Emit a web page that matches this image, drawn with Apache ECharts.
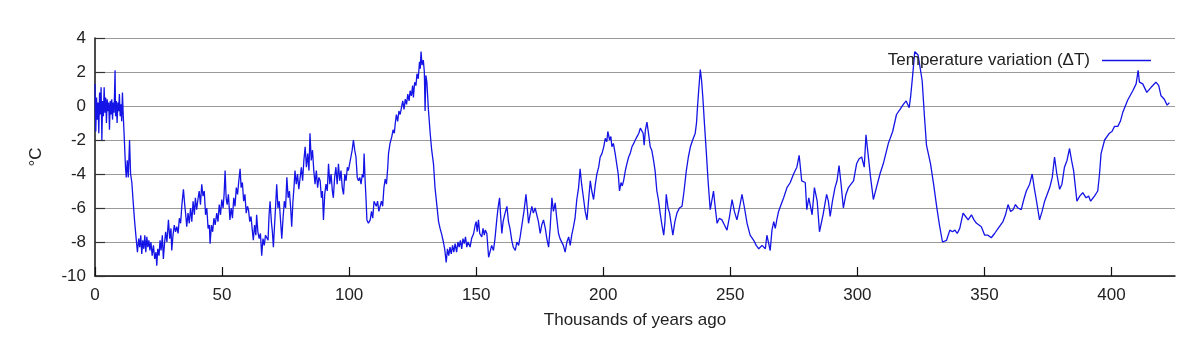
<!DOCTYPE html>
<html>
<head>
<meta charset="utf-8">
<script src="https://cdn.jsdelivr.net/npm/echarts@6/dist/echarts.min.js"></script>
<style>
html,body{margin:0;padding:0;background:#fff;}
#chart{width:1200px;height:350px;}
</style>
</head>
<body>
<div id="chart"></div>
<script>
// Vostok temperature variation, [thousands of years ago, deltaT in °C]
const cycle1 = [
[0,1.3],[0.3,-1.5],[0.6,0.5],[0.9,-0.8],[1.2,0.2],[1.5,-1.6],[1.8,0.8],[2.1,-0.5],[2.4,1.1],[2.7,-2.0],
[3.0,0.3],[3.3,-0.6],[3.6,1.1],[3.9,-0.4],[4.2,0.5],[4.5,-1.0],[4.8,0.4],[5.1,-0.3],[5.4,0.2],[5.7,-1.4],
[6.0,0.3],[6.3,-0.5],[6.6,0.4],[6.9,-0.8],[7.2,0.2],[7.5,-0.4],[7.9,2.1],[8.1,-0.6],[8.4,0.3],[8.7,-1.0],
[9.0,0.2],[9.3,-0.3],[9.6,0.7],[9.9,-0.6],[10.2,0.1],[10.5,-0.9],[10.8,0.8],[11.1,-0.5],[11.5,-1.8],[12.0,-3.6],
[12.3,-4.2],[12.7,-3.2],[13.1,-4.2],[13.6,-2.0],[14.0,-4.0],[14.5,-4.5],[15.0,-5.6],[15.6,-6.8],[16.2,-7.8],[16.7,-8.6],
[17.2,-7.8],[17.6,-8.3],[18.0,-7.6],[18.4,-8.7],[18.8,-7.9],[19.2,-8.4],[19.6,-7.6],[20.0,-8.6],[20.4,-7.7],[20.8,-8.3],
[21.2,-7.9],[21.6,-8.5],[22.0,-8.0],[22.5,-8.8],[23.0,-8.2],[23.5,-9.0],[24.0,-8.6],[24.3,-9.4],[24.7,-8.4],[25.2,-8.8],
[25.6,-7.9],[26.0,-8.5],[26.5,-7.6],[26.9,-9.0],[27.3,-8.2],[27.8,-7.4],[28.3,-8.0],[28.9,-6.7],[29.4,-7.8],[29.9,-7.2],
[30.2,-8.5],[30.7,-7.6],[31.2,-7.0],[31.7,-7.4],[32.2,-7.1],[32.7,-7.5],[33.2,-6.6],[33.7,-6.9],[34.2,-5.8],[34.8,-4.9],
[35.3,-5.8],[35.7,-6.4],[36.1,-7.1],[36.6,-6.3],[37.1,-6.9],[37.6,-6.0],[38.1,-6.8],[38.6,-5.6],[39.1,-6.4],[39.5,-5.4],
[40.0,-6.1],[40.5,-5.5],[41.0,-5.0],[41.5,-5.8],[42.0,-4.6],[42.5,-5.3],[43.0,-5.0],[43.5,-6.4],[44.0,-6.0],[44.5,-7.2],
[45.0,-7.0],[45.3,-8.1],[45.8,-7.0],[46.3,-7.4],[46.8,-6.6],[47.3,-7.0],[47.9,-6.3],[48.4,-6.8],[48.9,-5.8],[49.4,-6.4],
[49.9,-5.5],[50.4,-6.0],[50.8,-5.2],[51.2,-3.8],[51.6,-5.4],[52.0,-5.8],[52.5,-5.2],[53.1,-6.7],[53.6,-6.0],[54.1,-6.6],
[54.6,-5.4],[55.1,-5.9],[55.6,-4.8],[56.1,-5.2],[56.6,-4.4],[57.1,-3.7],[57.5,-4.8],[58.0,-4.5],[58.5,-5.6],[59.0,-5.2],
[59.5,-6.3],[60.0,-5.9],[60.4,-6.1],[60.9,-6.8],[61.4,-6.5],[61.9,-7.3],[62.3,-7.9],[62.8,-7.0],[63.3,-7.6],[63.6,-6.4],
[64.1,-7.4],[64.6,-7.8],[65.1,-7.5],[65.6,-8.8],[66.1,-7.8],[66.6,-8.2],[67.1,-7.6],[67.6,-7.5],[68.1,-7.9],[68.5,-6.4],
[68.9,-5.6],[69.4,-6.8],[69.8,-7.4],[70.2,-8.3],[70.7,-6.9],[71.1,-5.8],[71.5,-4.6],[72.0,-6.0],[72.5,-5.6],[73.0,-6.7],
[73.5,-7.8],[74.0,-6.6],[74.5,-5.6],[75.0,-6.0],[75.5,-4.2],[76.0,-5.4],[76.5,-5.0],[77.0,-6.0],[77.4,-7.1],[77.9,-5.6],
[78.3,-4.8],[78.7,-3.8],[79.2,-4.6],[79.7,-4.0],[80.2,-4.9],[80.7,-5.0],[81.2,-3.6],[81.7,-4.4],[82.2,-3.2],[82.7,-2.4],
[83.2,-3.6],[83.7,-2.8],[84.2,-3.8],[84.6,-1.6],[85.1,-3.2],[85.6,-2.6],[86.1,-3.8],[86.6,-4.6],[87.1,-3.8],[87.6,-4.8],
[88.1,-4.2],[88.6,-4.4],[89.1,-5.4],[89.5,-5.0],[89.9,-6.7],[90.4,-5.2],[90.9,-4.6],[91.4,-5.0],[91.9,-3.4],[92.4,-4.6],
[92.9,-4.0],[93.4,-5.0],[93.8,-5.4],[94.3,-4.2],[94.8,-3.6],[95.3,-4.6],[95.8,-3.4],[96.3,-4.4],[96.8,-3.8],[97.3,-4.8],
[97.8,-5.2],[98.3,-4.0],[98.8,-4.4],[99.3,-3.6],[99.7,-3.8],[100.2,-3.4],[100.7,-3.0],[101.2,-2.6],[101.7,-2.0],[102.2,-2.6],
[102.7,-3.0],[103.2,-4.2],[103.7,-4.4],[104.2,-4.2],[104.7,-4.6],[105.2,-4.0],[105.6,-4.2],[105.9,-2.8],[106.3,-4.4],[106.7,-5.6],
[107.0,-6.7],[107.6,-6.9],[108.3,-6.7],[108.8,-6.2],[109.3,-6.6],[109.8,-5.6],[110.2,-5.5],[110.7,-5.9],[111.2,-5.6],[111.7,-6.2],
[112.2,-6.1],[112.7,-5.6],[113.2,-5.9],[113.7,-4.8],[114.2,-4.3],[114.7,-4.6],[115.2,-3.6],[115.5,-2.8],[116.1,-2.2],[116.8,-1.8],
[117.3,-1.4],[117.8,-1.6],[118.1,-1.1],[118.6,-0.5],[119.1,-0.9],[119.6,-0.3],[120.1,-0.5],[120.6,-0.1],[121.1,0.3],[121.6,-0.2],
[122.1,0.4],[122.6,0.1],[123.1,0.7],[123.6,0.3],[124.0,0.9],[124.5,0.6],[125.0,1.2],[125.3,0.5],[125.8,1.4],[126.3,1.2],
[126.7,1.9],[127.2,1.6],[127.7,2.6],[128.0,2.2],[128.3,3.2],[128.7,2.4],[129.2,2.7],[129.6,2.0],[129.9,-0.3],[130.2,1.8]
];
const cycle2 = [
[130.6,1.4],[131.2,-0.2],[131.9,-1.6],[132.5,-2.6],[133.2,-3.4],[133.8,-4.8],[134.5,-5.8],[135.2,-6.8],[135.8,-7.2],[136.5,-7.6],
[137.1,-8.0],[137.6,-8.4],[138.2,-9.2],[138.7,-8.4],[139.2,-8.8],[139.7,-8.3],[140.2,-8.7],[140.7,-8.2],[141.2,-8.6],[141.7,-8.1],
[142.3,-8.6],[142.8,-8.0],[143.3,-8.3],[143.8,-7.9],[144.3,-8.4],[144.8,-7.8],[145.3,-8.1],[145.8,-7.7],[146.3,-8.3],[146.8,-8.0],
[147.6,-8.3],[148.2,-7.8],[149.0,-7.5],[149.6,-7.0],[150.0,-6.8],[150.4,-7.4],[150.9,-6.7],[151.4,-7.5],[152.2,-7.7],[152.7,-7.2],
[153.2,-7.6],[153.6,-7.3],[154.2,-7.5],[154.9,-8.9],[155.5,-9.0],[156.1,-8.2],[156.8,-8.5],[157.4,-7.8],[158.1,-6.7],[158.6,-6.0],
[159.2,-5.4],[159.6,-6.4],[160.1,-7.5],[160.6,-6.8],[161.2,-6.4],[162.1,-5.9],[162.7,-6.8],[163.3,-7.2],[164.0,-7.9],[164.6,-8.3],
[165.4,-8.5],[166.0,-8.0],[166.7,-8.2],[167.3,-7.7],[168.0,-7.0],[168.8,-6.2],[169.6,-5.2],[170.1,-6.0],[170.6,-6.9],[171.2,-6.4],
[171.9,-5.9],[172.5,-6.3],[173.2,-6.0],[173.9,-6.1],[174.5,-6.8],[175.2,-7.5],[175.8,-7.0],[176.5,-6.7],[177.2,-7.2],[177.8,-7.8],
[178.5,-8.3],[179.1,-7.2],[179.8,-5.4],[180.4,-6.2],[181.1,-5.7],[181.7,-6.6],[182.4,-7.5],[183.0,-7.8],[183.7,-7.9],[184.3,-8.2],
[185.0,-8.6],[185.7,-8.0],[186.4,-7.7],[187.0,-8.2],[187.6,-7.6],[188.3,-7.1],[188.9,-6.6],[189.6,-5.5],[190.3,-4.8],[190.9,-3.7],
[191.5,-4.6],[192.3,-5.5],[192.9,-6.2],[193.6,-6.7],[194.2,-5.6],[194.9,-4.4],[195.5,-5.0],[196.2,-5.5],[196.9,-4.6],[197.5,-4.0],
[198.2,-3.6],[198.8,-3.0],[199.5,-2.8],[200.2,-2.4],[200.8,-1.9],[201.4,-2.1],[201.8,-1.5],[202.5,-2.0],[203.0,-1.8],[203.4,-2.4],
[204.0,-2.2],[204.7,-2.8],[205.3,-3.4],[205.9,-4.0],[206.4,-5.0],[207.0,-4.5],[207.5,-4.7],[208.0,-4.4],[208.7,-3.8],[209.3,-3.4],
[210.0,-3.0],[210.6,-2.8],[211.3,-2.4],[212.0,-2.2],[212.6,-2.0],[213.3,-1.8],[214.0,-1.6],[214.6,-1.3],[215.2,-1.2],[215.7,-1.6],
[216.1,-2.3],[216.6,-1.4],[217.2,-0.95],[217.8,-1.6],[218.5,-2.4],[219.1,-2.6],[219.8,-3.2],[220.4,-3.8],[221.1,-5.0],[221.7,-5.5],
[222.4,-6.3],[223.1,-7.0],[223.8,-7.6],[224.3,-6.8],[224.8,-5.2],[225.5,-6.0],[226.1,-6.3],[226.8,-7.0],[227.4,-7.6],[228.2,-6.8],
[229.0,-6.3],[230.0,-6.0],[231.0,-5.9],[231.8,-5.0],[232.7,-3.8],[233.5,-3.0],[234.3,-2.4],[235.2,-2.0],[236.2,-1.6],[236.7,-1.0],
[237.1,-0.05],[237.6,1.0],[238.2,2.15],[238.7,1.5],[239.2,0.5],[239.9,-1.2],[240.6,-2.8],[241.3,-4.5]
];
const cycle3 = [
[242.1,-6.1],[242.7,-5.6],[243.4,-5.0],[244.1,-6.0],[244.8,-6.9],[245.7,-6.6],[246.7,-6.7],[247.7,-7.0],[248.7,-7.3],[249.7,-6.5],
[250.7,-5.5],[251.6,-6.2],[252.6,-6.7],[253.6,-6.0],[254.6,-5.2],[255.6,-6.0],[256.6,-6.9],[257.8,-7.6],[259.2,-7.9],[260.2,-8.2],
[261.2,-8.4],[262.5,-8.2],[263.8,-8.4],[264.4,-7.6],[265.1,-7.5],[265.7,-8.5],[266.4,-7.3],[267.1,-6.8],[267.7,-7.2],[268.3,-6.7],
[269.0,-6.2],[270.0,-5.8],[271.0,-5.4],[272.3,-4.8],[273.6,-4.5],[274.9,-4.0],[276.2,-3.6],[277.1,-2.9],[278.1,-4.4],[279.5,-4.5],
[280.1,-6.1],[280.9,-5.4],[281.5,-5.5],[282.2,-6.4],[283.1,-4.8],[284.2,-5.6],[285.1,-7.4],[286.5,-6.4],[287.9,-5.2],[288.6,-5.6],
[289.3,-6.5],[290.2,-5.6],[291.2,-4.8],[292.0,-4.4],[292.8,-3.5],[293.6,-4.6],[294.5,-6.0],[295.5,-5.2],[296.5,-4.8],[297.5,-4.6],
[298.5,-4.4],[299.7,-3.4],[300.7,-3.1],[301.7,-3.0],[302.7,-3.6],[303.4,-1.7],[304.2,-2.8],[305.2,-4.2],[306.3,-5.5],[307.5,-4.8],
[308.9,-4.0],[310.2,-3.4],[311.2,-2.8],[312.2,-2.2],[313.9,-1.5],[315.4,-0.5],[316.8,-0.2],[318.1,0.1],[319.2,0.3],[320.4,-0.1],
[321.0,0.6],[321.7,1.7],[322.6,3.2],[323.9,3.0],[325.5,1.5],[326.4,-0.6],[327.2,-2.3]
];
const cycle4 = [
[328.8,-3.4],[330.0,-4.6],[331.2,-5.9],[332.3,-7.0],[333.5,-8.0],[335.1,-7.9],[336.4,-7.3],[337.4,-7.4],[338.4,-7.3],[339.3,-7.5],
[340.3,-7.2],[341.6,-6.3],[342.6,-6.5],[343.6,-6.7],[344.9,-6.4],[345.9,-6.7],[346.9,-6.9],[348.8,-7.1],[350.1,-7.6],[351.4,-7.6],
[352.7,-7.75],[354.0,-7.5],[355.4,-7.2],[357.3,-6.8],[358.3,-6.4],[359.3,-5.8],[360.3,-6.2],[361.3,-6.1],[362.2,-5.8],[363.2,-6.0],
[364.5,-6.1],[365.5,-5.5],[366.5,-5.0],[367.8,-4.6],[368.8,-4.0],[369.6,-4.8],[370.4,-5.5],[371.7,-6.7],[372.7,-6.2],[373.7,-5.6],
[375.7,-4.8],[376.7,-4.2],[377.6,-3.0],[378.5,-4.0],[379.6,-4.9],[380.5,-4.6],[381.5,-3.6],[382.5,-3.2],[383.5,-2.5],[384.3,-3.2],
[385.1,-3.8],[386.4,-5.6],[387.5,-5.3],[388.7,-5.1],[390.0,-5.4],[391.0,-5.3],[391.8,-5.6],[393.3,-5.3],[394.6,-5.0],[395.3,-4.0],
[395.9,-2.8],[397.3,-2.0],[399.2,-1.6],[400.2,-1.5],[401.2,-1.2],[402.5,-1.2],[403.5,-0.9],[404.5,-0.35],[406.4,0.35],[408.4,0.9],
[409.7,1.3],[410.5,2.1],[411.0,1.4],[412.3,1.3],[413.9,0.8],[415.6,1.1],[417.5,1.4],[418.6,1.2],[419.5,0.6],[420.8,0.4],
[421.9,0.05],[422.8,0.2]
];
const xTicks = [0, 50, 100, 150, 200, 250, 300, 350, 400];
const yTicks = [-10, -8, -6, -4, -2, 0, 2, 4];
const seriesName = 'Temperature variation (ΔT)';
const xTitle = 'Thousands of years ago';
const yTitle = '°C';

const series = cycle1.concat(cycle2, cycle3, cycle4);
const FONT = '"Liberation Sans", Arial, sans-serif';
const LINE = '#1414e6';
const FS = 17;

const chart = echarts.init(document.getElementById('chart'), null, {renderer: 'canvas'});
chart.setOption({
  animation: false,
  backgroundColor: '#ffffff',
  grid: {left: 95, right: 25, top: 38, bottom: 74, containLabel: false},
  legend: {
    data: [{name: seriesName}],
    right: 44, top: 47,
    align: 'right',
    icon: 'rect',
    itemWidth: 49, itemHeight: 1.5,
    textStyle: {fontFamily: FONT, fontSize: FS, color: '#222', padding: [0, 7, 0, 0]},
    itemStyle: {color: LINE}
  },
  xAxis: {
    type: 'value', min: 0, max: 425, interval: 50,
    name: xTitle, nameLocation: 'middle', nameGap: 36,
    nameTextStyle: {fontFamily: FONT, fontSize: FS, color: '#222'},
    axisLine: {show: true, onZero: false, lineStyle: {color: '#111', width: 1.5}},
    axisTick: {show: true, inside: true, length: 9, customValues: xTicks, lineStyle: {color: '#111', width: 1.2}},
    axisLabel: {customValues: xTicks, margin: 11, fontFamily: FONT, fontSize: FS, color: '#222'},
    splitLine: {show: false}
  },
  yAxis: {
    type: 'value', min: -10, max: 4, interval: 2,
    name: yTitle, nameLocation: 'middle', nameGap: 50, nameRotate: 90,
    nameTextStyle: {fontFamily: FONT, fontSize: FS, color: '#222'},
    axisLine: {show: true, onZero: false, lineStyle: {color: '#111', width: 1.5}},
    axisTick: {show: true, inside: true, length: 10, customValues: yTicks, lineStyle: {color: '#333', width: 1.2}},
    axisLabel: {customValues: yTicks, margin: 9, fontFamily: FONT, fontSize: FS, color: '#222'},
    splitLine: {show: true, lineStyle: {color: '#9a9a9a', width: 1.2}}
  },
  series: [{
    name: seriesName, type: 'line', data: series,
    showSymbol: false, symbol: 'none',
    lineStyle: {color: LINE, width: 1.3},
    itemStyle: {color: LINE},
    z: 3
  }]
});
</script>
</body>
</html>
